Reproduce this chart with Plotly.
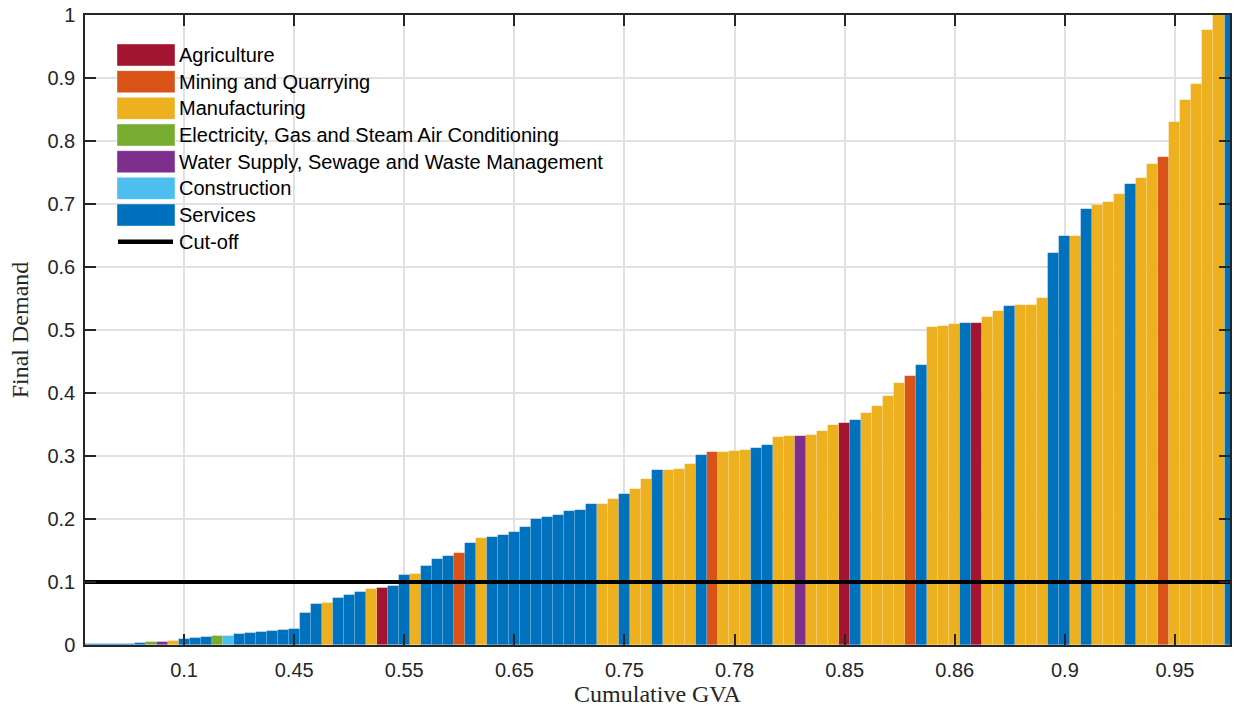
import plotly.graph_objects as go

# Sector names and their colours
sector_names = ["Agriculture", "Mining and Quarrying", "Manufacturing",
                "Electricity, Gas and Steam Air Conditioning",
                "Water Supply, Sewage and Waste Management",
                "Construction", "Services"]
sector_codes = ["A", "Q", "M", "E", "W", "C", "S"]
sector_colors = ["#A2142F", "#D95319", "#EDB120", "#77AC30",
                 "#7E2F8E", "#4DBEEE", "#0072BD"]

# Sector of each industry, industries sorted by final demand
industry_sector = list(
    "SSSSSS" "EWM" "SSS" "EC" "SSSSSSSS" "M" "SSS" "MA" "SS" "M" "SSS" "Q" "S" "M"
    "SSSSSSSSSS" "MM" "S" "MM" "S" "MMM" "S" "Q" "MMM" "SS" "MM" "W" "MMM" "A" "S"
    "MMMM" "Q" "S" "MMM" "S" "A" "MM" "S" "MMM" "SS" "M" "S" "MMM" "S" "MM" "Q"
    "MMMMM" "S"
)

# Normalised final demand of each industry
final_demand = [
    0.001, 0.001, 0.0015, 0.0015, 0.002, 0.003, 0.004, 0.004, 0.0065, 0.010,
    0.011, 0.012, 0.015, 0.015, 0.018, 0.019, 0.020, 0.022, 0.024, 0.025,
    0.051, 0.065, 0.067, 0.074, 0.080, 0.084, 0.089, 0.091, 0.093, 0.111,
    0.113, 0.126, 0.137, 0.142, 0.146, 0.162, 0.170, 0.171, 0.174, 0.179,
    0.187, 0.200, 0.203, 0.206, 0.212, 0.214, 0.224, 0.224, 0.231, 0.239,
    0.247, 0.263, 0.277, 0.278, 0.279, 0.288, 0.301, 0.306, 0.307, 0.308,
    0.309, 0.313, 0.318, 0.330, 0.331, 0.331, 0.334, 0.340, 0.350, 0.353,
    0.357, 0.369, 0.379, 0.396, 0.416, 0.427, 0.444, 0.505, 0.507, 0.509,
    0.511, 0.511, 0.520, 0.530, 0.538, 0.539, 0.540, 0.551, 0.622, 0.649,
    0.650, 0.692, 0.698, 0.703, 0.716, 0.732, 0.742, 0.764, 0.774, 0.830,
    0.865, 0.890, 0.976, 1.000, 1.000,
]

# Cumulative GVA shown every tenth industry
tick_every = 10
cumulative_gva_labels = ["0.1", "0.45", "0.55", "0.65", "0.75",
                         "0.78", "0.85", "0.86", "0.9", "0.95"]

cutoff = 0.1

assert len(industry_sector) == len(final_demand)
n = len(final_demand)
positions = list(range(1, n + 1))

fig = go.Figure()
for code, name, color in zip(sector_codes, sector_names, sector_colors):
    xs = [p for p, s in zip(positions, industry_sector) if s == code]
    ys = [v for v, s in zip(final_demand, industry_sector) if s == code]
    fig.add_trace(go.Bar(
        x=xs, y=ys, width=1, name=name, showlegend=False,
        marker=dict(color=color, line=dict(color="rgba(255,255,255,0.15)", width=0.7)),
    ))

fig.add_trace(go.Scatter(
    x=[1, n], y=[cutoff, cutoff], mode="lines", name="Cut-off",
    line=dict(color="black", width=4), showlegend=False,
))

W, H = 1233, 711
ML, MR, MT, MB = 85, 3, 15, 66
PW, PH = W - ML - MR, H - MT - MB


def px(xp):
    return (xp - ML) / PW


def py(yp):
    return (H - MB - yp) / PH


# Legend drawn as swatches and labels in the upper-left corner
shapes = []
annotations = []
row0, row_step = 55, 26.67
legend_items = list(zip(sector_names, sector_colors)) + [("Cut-off", None)]
for i, (label, color) in enumerate(legend_items):
    yc = row0 + i * row_step
    if color is not None:
        shapes.append(dict(type="rect", xref="paper", yref="paper",
                           x0=px(117), x1=px(175), y0=py(yc + 11), y1=py(yc - 11),
                           fillcolor=color, line=dict(color="rgba(255,255,255,0.4)", width=1),
                           layer="above"))
    else:
        shapes.append(dict(type="line", xref="paper", yref="paper",
                           x0=px(118), x1=px(173), y0=py(yc), y1=py(yc),
                           line=dict(color="black", width=4.5), layer="above"))
    annotations.append(dict(text=label, xref="paper", yref="paper",
                            x=px(177), y=py(yc), xanchor="left", yanchor="middle",
                            showarrow=False,
                            font=dict(family="Liberation Sans", size=20, color="#000000")))

axis_common = dict(
    showline=True, linecolor="#262626", linewidth=1.5, mirror="allticks",
    ticks="inside", ticklen=11, tickwidth=1.5, tickcolor="#262626",
    showgrid=True, gridcolor="#e1e1e1", gridwidth=2, zeroline=False,
    tickfont=dict(family="Liberation Sans", size=20, color="#262626"),
)

fig.update_layout(
    width=W, height=H,
    margin=dict(l=ML, r=MR, t=MT, b=MB, autoexpand=False),
    paper_bgcolor="white", plot_bgcolor="white",
    barmode="overlay", bargap=0,
    showlegend=False,
    shapes=shapes, annotations=annotations,
    xaxis=dict(
        range=[1, n], tickmode="array",
        tickvals=positions[tick_every - 1::tick_every][:len(cumulative_gva_labels)],
        ticktext=cumulative_gva_labels, ticklabelstandoff=6,
        title=dict(text="Cumulative GVA", standoff=5,
                   font=dict(family="Liberation Serif", size=24, color="#262626")),
        automargin=False, **axis_common,
    ),
    yaxis=dict(
        range=[0, 1], tick0=0, dtick=0.1, ticklabelstandoff=4,
        title=dict(text="Final Demand", standoff=12,
                   font=dict(family="Liberation Serif", size=24, color="#262626")),
        automargin=False, **axis_common,
    ),
)

fig.write_html("out.html")
